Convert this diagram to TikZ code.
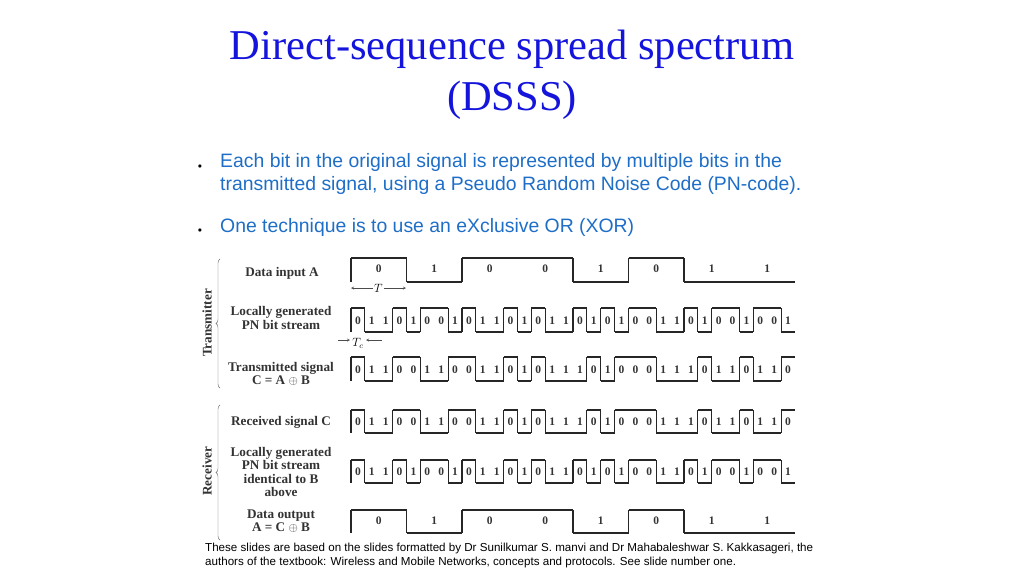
\documentclass[tikz,border=0pt]{standalone}
\usepackage{fontspec}
\setmainfont{Liberation Serif}
\newfontfamily\sans{Liberation Sans}
\usetikzlibrary{decorations.pathreplacing}
\definecolor{ttl}{RGB}{20,20,220}
\definecolor{bul}{RGB}{30,110,200}
\tikzset{lab/.style={font=\bfseries\fontsize{13.2}{13.5}\selectfont,align=center,text=black!80},
 dig/.style={font=\bfseries\fontsize{11.5}{12}\selectfont,inner sep=0pt,text=black!80},
 wv/.style={line width=1.2pt,black!85}}
\newcommand\wave[6]{%
 \foreach \b [count=\i from 0, remember=\b as \p (initially 2)] in #5{%
   \pgfmathsetmacro\xa{#1+\i*#4}\pgfmathsetmacro\xb{\xa+#4}%
   \pgfmathsetmacro\yy{\b==0 ? #2 : #3}%
   \draw[wv] (\xa,\yy) -- (\xb,\yy);
   \ifnum\b=\p\else\draw[wv] (\xa,#2)--(\xa,#3);\fi
   \node[dig] at (\xa+#4/2,#6) {\b};
 }}
\begin{document}
\begin{tikzpicture}[x=1pt,y=-1pt]
\useasboundingbox (0,0) rectangle (1024,576);
\node[text=ttl,font=\fontsize{42.5}{51}\selectfont,align=center] (title) at (512,75) {Direct-sequence spread spectrum\\(DSSS)};
\node[font=\sans\fontsize{8}{8}\selectfont] (b1) at (200,167) {$\bullet$};
\node[font=\sans\fontsize{8}{8}\selectfont] (b2) at (200,231) {$\bullet$};
\node[anchor=north west,text=bul,font=\sans\fontsize{19.4}{23}\selectfont,align=left,inner sep=0pt] (t1) at (220,153) {Each bit in the original signal is represented by multiple bits in the\\transmitted signal, using a Pseudo Random Noise Code (PN-code).};
\node[anchor=north west,text=bul,font=\sans\fontsize{19.4}{23}\selectfont,inner sep=0pt] (t2) at (220,218) {One technique is to use an eXclusive OR (XOR)};
% labels
\node[lab] (l1) at (282,273) {Data input A};
\node[lab] (l2) at (281,318) {Locally generated\\PN bit stream};
\node[lab] (l3) at (281,374) {Transmitted signal\\C = A $\oplus$ B};
\node[lab] (l4) at (281,422) {Received signal C};
\node[lab] (l5) at (281,472) {Locally generated\\PN bit stream\\identical to B\\above};
\node[lab] (l6) at (281,521) {Data output\\A = C $\oplus$ B};
\node[lab] (tx) at (207,323) [rotate=90] {Transmitter};
\node[lab] (rx) at (207,471) [rotate=90] {Receiver};
\draw[black!60,decorate,decoration={brace,amplitude=4pt}] (220,388) -- (220,259);
\draw[black!60,decorate,decoration={brace,amplitude=4pt}] (220,540) -- (220,405);
% waves
\def\dat{0,1,0,0,1,0,1,1}
\def\pn{0,1,1,0,1,0,0,1,0,1,1,0,1,0,1,1,0,1,0,1,0,0,1,1,0,1,0,0,1,0,0,1}
\def\cc{0,1,1,0,0,1,1,0,0,1,1,0,1,0,1,1,1,0,1,0,0,0,1,1,1,0,1,1,0,1,1,0}
\wave{351}{258}{282}{55.5}{\dat}{269}
\wave{351}{308}{332}{13.875}{\pn}{321}
\wave{351}{357}{381}{13.875}{\cc}{370}
\wave{351}{410}{433}{13.875}{\cc}{422}
\wave{351}{460}{483}{13.875}{\pn}{472}
\wave{351}{510}{533}{55.5}{\dat}{521}
% T markers
\coordinate (ta) at (351,288); \coordinate (tb) at (406,288);
\node[font=\fontsize{12}{12}\selectfont,inner sep=1pt,fill=white] (T) at (378.5,288) {$T$};
\draw[->,>=stealth,black!70] (T) -- (ta); \draw[->,>=stealth,black!70] (T) -- (tb);
\coordinate (c1) at (350,340); \coordinate (c2) at (366,340);
\draw[->,>=stealth,black!70] (338,340) -- (c1);
\draw[->,>=stealth,black!70] (382,340) -- (c2);
\node[font=\fontsize{12}{12}\selectfont] (Tc) at (358,343) {$T_c$};
\node[anchor=north west,font=\sans\fontsize{11.6}{14}\selectfont,align=left,inner sep=0pt] (foot) at (205,543) {These slides are based on the slides formatted by Dr Sunilkumar S. manvi and Dr Mahabaleshwar S. Kakkasageri, the\\authors of the textbook: Wireless and Mobile Networks, concepts and protocols. See slide number one.};
\end{tikzpicture}
\end{document}
